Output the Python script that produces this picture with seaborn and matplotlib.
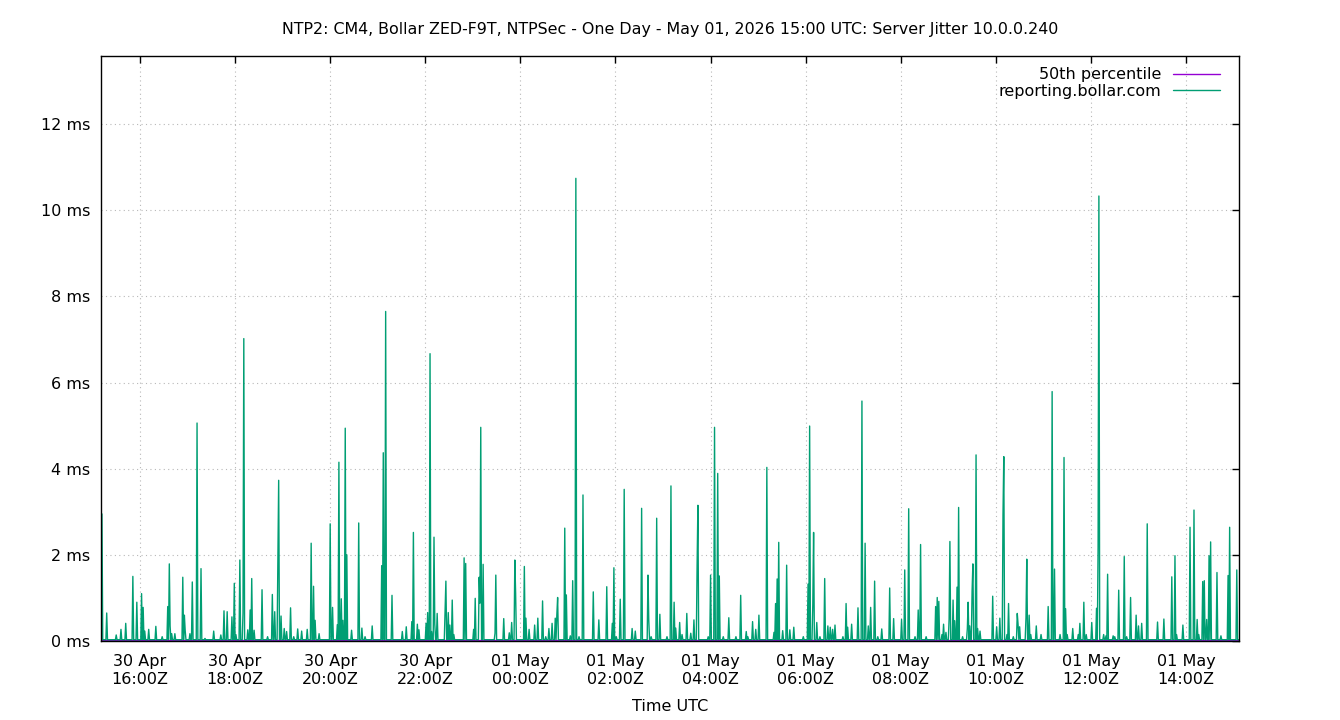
import numpy as np
import pandas as pd
import matplotlib
matplotlib.use("Agg")
import matplotlib.pyplot as plt
import matplotlib.dates as mdates
import seaborn as sns

# ---------------- data ----------------
START = "2026-04-30 15:00"          # reference origin for minute offsets
X_MIN_MINUTES = 11                   # visible range (minutes after START)
X_MAX_MINUTES = 1447

BASELINE_MS = 0.03                   # quiet-level jitter
P50_MS = 0.02                        # 50th percentile level

# spike times (minutes after START) and jitter values (ms)
spike_minutes = [
    12, 18, 30, 36, 42, 51, 56, 62, 64, 66, 71, 80, 88, 95, 97, 98, 100, 104,
    114, 116, 117, 123, 126, 132, 137, 142, 153, 162, 166, 170, 176, 179, 181,
    186, 190, 191, 196, 199, 201, 204, 214, 221, 227, 230, 234, 235, 238, 242,
    245, 250, 254, 259, 264, 271, 276, 279, 281, 286, 300, 303, 309, 311, 314,
    316, 319, 321, 327, 336, 340, 344, 353, 365, 367, 370,
    378, 391, 396, 403, 405, 410, 412, 421, 423, 426, 428, 431, 432, 435, 445,
    446, 449, 451, 454, 456, 469, 471, 481, 483, 488, 489, 490, 493, 508, 509,
    519, 526, 529, 533, 534, 545, 547, 551, 558, 562, 568, 572, 576, 580, 584,
    586, 587, 596, 598, 603, 606, 610, 614, 619, 632, 639, 649, 656, 658, 661,
    666, 671, 681, 685, 693, 701, 702, 705, 712, 716, 725, 730, 734,
    736, 741, 744, 750, 755, 759, 763, 764, 777, 780, 785, 789, 791, 796, 803,
    812, 818, 825, 827, 833, 837, 841, 851, 860, 862, 864, 866, 871, 876, 880,
    885, 897, 903, 905, 909, 910, 914, 918, 924, 928, 931, 934, 937, 947, 951,
    953, 958, 966, 971, 975, 979, 982, 987, 991, 996, 1006, 1011, 1021, 1025,
    1030, 1038, 1042, 1045, 1052, 1064, 1066, 1068, 1072, 1074, 1077, 1081,
    1082, 1086, 1088, 1091, 1093,
    1098, 1104, 1105, 1107, 1110, 1111, 1115, 1117, 1120, 1136, 1141, 1145,
    1149, 1150, 1154, 1156, 1162, 1167, 1168, 1170, 1178, 1179, 1182, 1184,
    1191, 1197, 1206, 1211, 1214, 1221, 1226, 1228, 1230, 1237, 1244, 1246,
    1251, 1254, 1261, 1267, 1269, 1270, 1276, 1279, 1281, 1288, 1290, 1295,
    1302, 1305, 1310, 1317, 1320, 1324, 1331, 1344, 1352, 1362, 1366, 1368,
    1376, 1385, 1390, 1394, 1396, 1401, 1403, 1406, 1409, 1411, 1419, 1424,
    1433, 1435, 1444,
]
spike_ms = [
    2.95, 0.65, 0.14, 0.27, 0.41, 1.50, 0.90, 1.10, 0.78, 0.23, 0.27, 0.34, 0.10, 0.80, 1.79, 0.35, 0.17, 0.17,
    1.48, 0.60, 0.25, 0.17, 1.37, 5.06, 1.68, 0.06, 0.23, 0.14, 0.70, 0.68, 0.56, 1.34, 0.15,
    1.88, 0.65, 7.02, 0.26, 0.72, 1.45, 0.25, 1.19, 0.10, 1.08, 0.68, 1.91, 3.73, 0.58, 0.29,
    0.22, 0.77, 0.10, 0.28, 0.23, 0.27, 2.27, 1.27, 0.48, 0.17, 2.72, 0.78, 0.38, 4.15, 0.98,
    0.48, 4.94, 2.00, 0.25, 2.74, 0.30, 0.10, 0.35, 1.75, 4.37, 7.65,
    1.06, 0.22, 0.33, 0.45, 2.52, 0.39, 0.26, 0.41, 0.66, 6.67, 0.22, 2.41, 0.39, 0.64, 0.76,
    1.39, 0.66, 0.37, 0.95, 0.15, 1.93, 1.80, 0.27, 0.99, 1.48, 0.88, 4.96, 1.78, 0.18, 1.53,
    0.52, 0.19, 0.43, 1.88, 1.11, 1.73, 0.53, 0.27, 0.37, 0.53, 0.93, 0.10, 0.29, 0.41, 0.53,
    0.60, 1.01, 2.62, 1.07, 0.12, 1.40, 10.74, 0.10, 3.39, 1.14, 0.49, 1.26, 0.41, 1.70, 0.10,
    0.97, 3.52, 0.29, 0.23, 3.08, 1.53, 0.49, 0.10, 2.85, 0.62, 0.10, 3.60, 0.90,
    0.30, 0.43, 0.15, 0.64, 0.18, 0.49, 1.76, 3.15, 0.10, 1.53, 4.96, 3.89, 1.51, 0.10, 0.54,
    0.10, 1.06, 0.22, 0.10, 0.45, 0.27, 0.60, 4.03, 0.20, 0.87, 1.44, 2.29, 0.24, 1.76, 0.26,
    0.32, 0.10, 1.32, 4.99, 0.85, 2.52, 0.43, 0.10, 1.45, 0.35, 0.32, 0.27, 0.37, 0.10, 0.87,
    0.32, 0.39, 0.77, 5.57, 2.27, 0.35, 0.78, 1.39, 0.10, 0.28, 1.23, 0.52, 0.50, 1.65,
    3.07, 0.10, 0.72, 2.24, 0.10, 0.80, 1.01, 0.92, 0.15, 0.39, 0.20, 0.51,
    2.31, 0.95, 0.47, 1.25, 3.10,
    0.10, 0.29, 0.90, 0.35, 1.16, 1.79, 4.32, 0.29, 0.23, 1.04, 0.33, 0.53,
    2.93, 4.28, 0.15, 0.87, 0.10, 0.64, 0.39, 0.33, 0.54, 1.90, 0.60, 0.15,
    0.35, 0.15, 0.80, 5.79, 1.67, 0.15, 4.26, 0.75, 0.15, 0.29, 0.15, 0.41,
    0.90, 0.15, 0.43, 0.76, 2.19, 10.33, 0.15, 0.12, 1.55, 0.12, 0.10, 1.18,
    1.96, 0.10, 1.01, 0.60, 0.35, 0.41, 2.72, 0.44, 0.51, 1.49, 1.98, 0.15,
    0.37, 2.64, 3.04, 0.50, 0.15, 1.38, 1.40, 0.50, 1.98, 2.30, 1.59, 0.12,
    1.52, 2.64, 1.65,
]

y_ticks_ms = [0, 2, 4, 6, 8, 10, 12]
y_tick_labels = ["0 ms", "2 ms", "4 ms", "6 ms", "8 ms", "10 ms", "12 ms"]
Y_MAX_MS = 13.58

TITLE = ("NTP2: CM4, Bollar ZED-F9T, NTPSec - One Day - May 01, 2026 15:00 UTC: "
         "Server Jitter 10.0.0.240")
SERIES_P50 = "50th percentile"
SERIES_MAIN = "reporting.bollar.com"
X_LABEL = "Time UTC"

# ---------------- build tables ----------------
start = pd.Timestamp(START)
minutes = np.arange(X_MIN_MINUTES, X_MAX_MINUTES + 1)
values = np.full(minutes.shape, BASELINE_MS, dtype=float)
for m, v in zip(spike_minutes, spike_ms):
    i = m - X_MIN_MINUTES
    if 0 <= i < len(values):
        values[i] = max(values[i], v)

main_df = pd.DataFrame({
    "time": start + pd.to_timedelta(minutes, unit="min"),
    "jitter": values,
})
p50_df = pd.DataFrame({
    "time": [start + pd.Timedelta(minutes=X_MIN_MINUTES),
             start + pd.Timedelta(minutes=X_MAX_MINUTES)],
    "jitter": [P50_MS, P50_MS],
})

# ---------------- plot ----------------
sns.set_style("white")
plt.rcParams["font.family"] = ["DejaVu Sans"]
plt.rcParams["text.color"] = "black"
plt.rcParams["axes.labelcolor"] = "black"
plt.rcParams["xtick.color"] = "black"
plt.rcParams["ytick.color"] = "black"

FS = 11.5

fig = plt.figure(figsize=(13.4, 7.2), dpi=100)
ax = fig.add_axes([101 / 1340, (720 - 641) / 720, (1239 - 101) / 1340, (641 - 56) / 720])

sns.lineplot(data=p50_df, x="time", y="jitter", ax=ax, color="#9400d3",
             linewidth=1.0, label=SERIES_P50)
sns.lineplot(data=main_df, x="time", y="jitter", ax=ax, color="#009e73",
             linewidth=1.0, label=SERIES_MAIN, antialiased=True)

ax.set_xlim(start + pd.Timedelta(minutes=X_MIN_MINUTES - 0.2),
            start + pd.Timedelta(minutes=X_MAX_MINUTES - 0.2))
ax.set_ylim(0, Y_MAX_MS)

ax.set_yticks(y_ticks_ms)
ax.set_yticklabels(y_tick_labels)
ax.xaxis.set_major_locator(mdates.HourLocator(byhour=range(0, 24, 2)))
ax.xaxis.set_major_formatter(mdates.DateFormatter("%d %b\n%H:%MZ"))

ax.grid(True, which="major", color="#b8b8b8", linestyle=(0, (1, 3)), linewidth=0.8)
for s in ax.spines.values():
    s.set_visible(True)
    s.set_color("black")
    s.set_linewidth(1.0)

ax.tick_params(axis="both", which="major", direction="in", length=5, width=1,
               top=True, right=True, labelsize=FS, colors="black", pad=8)
ax.tick_params(axis="x", pad=9.5)
for lab in ax.get_xticklabels():
    lab.set_horizontalalignment("center")
    lab.set_multialignment("center")

ax.set_xlabel(X_LABEL, fontsize=FS, labelpad=9, color="black")
ax.set_ylabel("")
fig.suptitle(TITLE, fontsize=11.4, y=1 - 29.5 / 720, va="center", color="black")

leg = ax.legend(loc="upper right", frameon=False, markerfirst=False, fontsize=FS,
                handlelength=2.9, handletextpad=0.75, labelspacing=0.12,
                borderaxespad=0.35, bbox_to_anchor=(0.9935, 1.0015))
for t in leg.get_texts():
    t.set_ha("right")
    t.set_color("black")

fig.savefig("out.png", dpi=100)
